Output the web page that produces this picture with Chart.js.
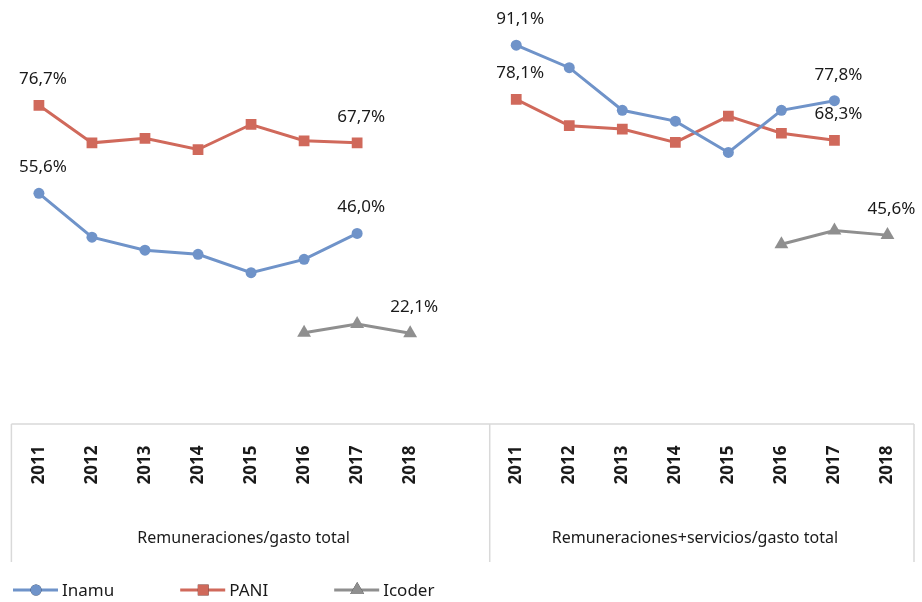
<!DOCTYPE html>
<html>
<head>
<meta charset="utf-8">
<script src="https://cdn.jsdelivr.net/npm/chart.js@4.4.1/dist/chart.umd.min.js"></script>
<style>
  html, body { margin: 0; padding: 0; background: #fff; }
  #wrap { width: 922px; height: 602px; }
</style>
</head>
<body>
<div id="wrap"><canvas id="chart" width="922" height="602"></canvas></div>
<script>
// categorias: dos grupos de años, con una categoria vacia al final del primero
const years = ['2011','2012','2013','2014','2015','2016','2017','2018','',
               '2011','2012','2013','2014','2015','2016','2017','2018'];
const groups = ['Remuneraciones/gasto total', 'Remuneraciones+servicios/gasto total'];
const groupSize = [9, 8];

const inamu  = [55.6, 45.1, 42.0, 41.0, 36.6, 39.8, 46.0, null, null,
                91.1, 85.7, 75.5, 72.9, 65.4, 75.5, 77.8, null];
const pani   = [76.7, 67.7, 68.8, 66.1, 72.1, 68.2, 67.7, null, null,
                78.1, 71.8, 71.0, 67.8, 74.1, 70.0, 68.3, null];
const icoder = [null, null, null, null, null, 22.2, 24.3, 22.1, null,
                null, null, null, null, null, 43.4, 46.7, 45.6];

// puntos con etiqueta de valor
const inamuLabels  = [0, 6, 9, 15];
const paniLabels   = [0, 6, 9, 15];
const icoderLabels = [7, 16];

const FONT = '"Noto Sans"';
const fmt = v => v.toFixed(1).replace('.', ',') + '%';

const valueLabels = {
    id: 'valueLabels',
    afterDatasetsDraw(chart) {
        const ctx = chart.ctx;
        ctx.save();
        ctx.font = '17px ' + FONT;
        ctx.fillStyle = '#1a1a1a';
        ctx.textAlign = 'center';
        ctx.textBaseline = 'middle';
        chart.data.datasets.forEach((ds, i) => {
            const meta = chart.getDatasetMeta(i);
            ds.showLabels.forEach(idx => {
                const p = meta.data[idx];
                ctx.fillText(fmt(ds.data[idx]), p.x + 4, p.y - 26);
            });
        });
        ctx.restore();
    }
};

// caja del eje de categorias, nombres de grupo y leyenda
const axisBox = {
    id: 'axisBox',
    afterDraw(chart) {
        const ctx = chart.ctx;
        const x = chart.scales.x;
        const area = chart.chartArea;
        const top = area.bottom - 1.5;
        const bottom = 562;
        ctx.save();
        ctx.strokeStyle = '#d9d9d9';
        ctx.lineWidth = 1.5;
        ctx.beginPath();
        ctx.moveTo(area.left - 1, top);
        ctx.lineTo(area.right, top);
        let start = 0;
        const edges = [area.left - 1];
        groupSize.forEach(n => {
            const last = start + n - 1;
            const right = last + 1 < years.length
                ? (x.getPixelForValue(last) + x.getPixelForValue(last + 1)) / 2
                : area.right;
            edges.push(right);
            start += n;
        });
        edges.forEach(e => { ctx.moveTo(e, top); ctx.lineTo(e, bottom); });
        ctx.stroke();

        ctx.font = '16px ' + FONT;
        ctx.fillStyle = '#1a1a1a';
        ctx.textAlign = 'center';
        ctx.textBaseline = 'middle';
        groups.forEach((g, i) => {
            ctx.fillText(g, (edges[i] + edges[i + 1]) / 2 - 7, 538);
        });

        // leyenda
        let lx = 13;
        const ly = 590;
        ctx.font = '17px ' + FONT;
        ctx.textAlign = 'left';
        chart.data.datasets.forEach(ds => {
            ctx.strokeStyle = ds.borderColor;
            ctx.lineWidth = 3;
            ctx.beginPath();
            ctx.moveTo(lx, ly);
            ctx.lineTo(lx + 45, ly);
            ctx.stroke();
            Chart.helpers.drawPoint(ctx, {
                pointStyle: ds.pointStyle, radius: ds.pointRadius,
                rotation: 0, borderWidth: 0
            }, lx + 23, ly);
            ctx.fillStyle = ds.borderColor;
            ctx.fill();
            ctx.fillStyle = '#1a1a1a';
            ctx.fillText(ds.label, lx + 49, ly + 1);
            lx += 49 + ctx.measureText(ds.label).width + 66;
        });
        ctx.restore();
    }
};

const blue = '#6f93c9';
const red = '#d0695b';
const gray = '#8f8f8f';

new Chart(document.getElementById('chart'), {
    type: 'line',
    data: {
        labels: years,
        datasets: [
            { label: 'Inamu', data: inamu, showLabels: inamuLabels,
              borderColor: blue, backgroundColor: blue,
              pointStyle: 'circle', pointRadius: 5.5 },
            { label: 'PANI', data: pani, showLabels: paniLabels,
              borderColor: red, backgroundColor: red,
              pointStyle: 'rect', pointRadius: 7.6 },
            { label: 'Icoder', data: icoder, showLabels: icoderLabels,
              borderColor: gray, backgroundColor: gray,
              pointStyle: 'triangle', pointRadius: 8 }
        ]
    },
    options: {
        responsive: false,
        animation: false,
        spanGaps: false,
        layout: { padding: { left: 12.4, right: 5.4, top: 5, bottom: 0 } },
        elements: {
            line: { borderWidth: 3, tension: 0 },
            point: { borderWidth: 0, hoverRadius: 6 }
        },
        plugins: { legend: { display: false }, tooltip: { enabled: false } },
        scales: {
            y: { display: false, min: 0, max: 100 },
            x: {
                offset: true,
                grid: { display: false, drawTicks: true, tickLength: 20,
                        tickColor: 'rgba(0,0,0,0)' },
                border: { display: false },
                ticks: {
                    autoSkip: false, minRotation: 90, maxRotation: 90,
                    padding: 0, color: '#1a1a1a',
                    font: { family: 'Noto Sans', size: 17, weight: 'bold' }
                },
                afterFit(scale) {
                    scale.height = 176.5;
                    scale.paddingLeft = 0;
                    scale.paddingRight = 0;
                }
            }
        }
    },
    plugins: [valueLabels, axisBox]
});
</script>
</body>
</html>
